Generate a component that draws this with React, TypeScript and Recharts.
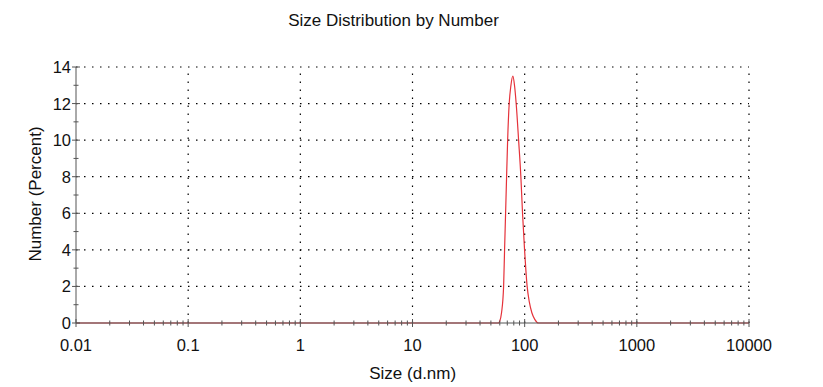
import React from 'react';
import { LineChart, Line, XAxis, YAxis, ReferenceLine } from 'recharts';

const sizes = [0.01, 10, 40, 58.5, 59.8, 62.2, 64.9, 66.2, 67.6, 69.0, 70.5, 72.8, 75.3, 78.5, 81.3, 84.0, 88.3, 92.5, 95.7, 99.8, 105.2, 110, 115.9, 123, 133, 200, 1000, 10000];
const numbers = [0, 0, 0, 0, 0.08, 0.56, 2, 4, 6, 8, 10, 12, 12.96, 13.5, 12.96, 12, 10, 8, 6, 4, 2, 1.15, 0.56, 0.2, 0, 0, 0, 0];

const majorXTicks = [0.01, 0.1, 1, 10, 100, 1000, 10000];
const minorMultipliers = [2, 3, 4, 5, 6, 7, 8, 9];
const yTicks = [0, 1, 2, 3, 4, 5, 6, 7, 8, 9, 10, 11, 12, 13, 14];
const yMajor = [0, 2, 4, 6, 8, 10, 12, 14];

const data = sizes.map((s, i) => ({ size: s, number: numbers[i] }));
const minorXTicks: number[] = [];
majorXTicks.slice(0, -1).forEach((m) => minorMultipliers.forEach((k) => minorXTicks.push(m * k)));
const allXTicks = [...majorXTicks, ...minorXTicks].sort((a, b) => a - b);

const FONT = "Arial, 'Liberation Sans', sans-serif";
const AXIS = '#555';

const XTick = (props: any) => {
  const { x, y, payload } = props;
  const v = payload.value;
  const major = majorXTicks.some((m) => Math.abs(m - v) / m < 1e-6);
  const h = major ? 4 : 2.5;
  return (
    <g>
      <line x1={x} x2={x} y1={y - h} y2={y + h} stroke={AXIS} strokeWidth={1} />
      {major && (
        <text x={x} y={y + 28} textAnchor="middle" fontSize={16.5} fontFamily={FONT} fill="#111">
          {String(v)}
        </text>
      )}
    </g>
  );
};

const YTick = (props: any) => {
  const { x, y, payload } = props;
  const v = payload.value;
  const major = yMajor.includes(v);
  const h = major ? 4 : 2.5;
  return (
    <g>
      <line x1={x - h} x2={x + h} y1={y} y2={y} stroke={AXIS} strokeWidth={1} />
      {major && (
        <text x={x - 5} y={y + 6} textAnchor="end" fontSize={16.5} fontFamily={FONT} fill="#111">
          {String(v)}
        </text>
      )}
    </g>
  );
};

export default function App() {
  return (
    <div style={{ position: 'absolute', left: 0, top: 0, width: 823, height: 387, background: '#fff' }}>
      <LineChart width={823} height={387} data={data} margin={{ top: 67, right: 74, bottom: 0, left: 0 }}>
        {yMajor.filter((v) => v > 0).map((v) => (
          <ReferenceLine key={'h' + v} y={v} stroke="#000" strokeWidth={1.2} strokeDasharray="1.5 6.5" />
        ))}
        {majorXTicks.slice(1).map((v) => (
          <ReferenceLine key={'v' + v} x={v} stroke="#000" strokeWidth={1.2} strokeDasharray="1.5 6.5" />
        ))}
        <XAxis
          dataKey="size"
          type="number"
          scale="log"
          domain={[0.01, 10000]}
          ticks={allXTicks}
          interval={0}
          tick={<XTick />}
          tickLine={false}
          tickSize={0}
          tickMargin={0}
          height={64}
          stroke={AXIS}
          allowDataOverflow
        />
        <YAxis
          type="number"
          domain={[0, 14]}
          ticks={yTicks}
          interval={0}
          tick={<YTick />}
          tickLine={false}
          tickSize={0}
          tickMargin={0}
          width={76}
          stroke={AXIS}
        />
        <Line
          type="monotone"
          dataKey="number"
          stroke="#e5323a"
          strokeWidth={1.2}
          dot={false}
          isAnimationActive={false}
        />
      </LineChart>
      <svg width={823} height={387} style={{ position: 'absolute', left: 0, top: 0, pointerEvents: 'none' }}>
        <text x={393.5} y={26} textAnchor="middle" fontSize={17} fontFamily={FONT} fill="#111">
          Size Distribution by Number
        </text>
        <text x={412.7} y={379} textAnchor="middle" fontSize={17} fontFamily={FONT} fill="#111">
          Size (d.nm)
        </text>
        <text transform="translate(41,194) rotate(-90)" textAnchor="middle" fontSize={17} fontFamily={FONT} fill="#111">
          Number (Percent)
        </text>
      </svg>
    </div>
  );
}
